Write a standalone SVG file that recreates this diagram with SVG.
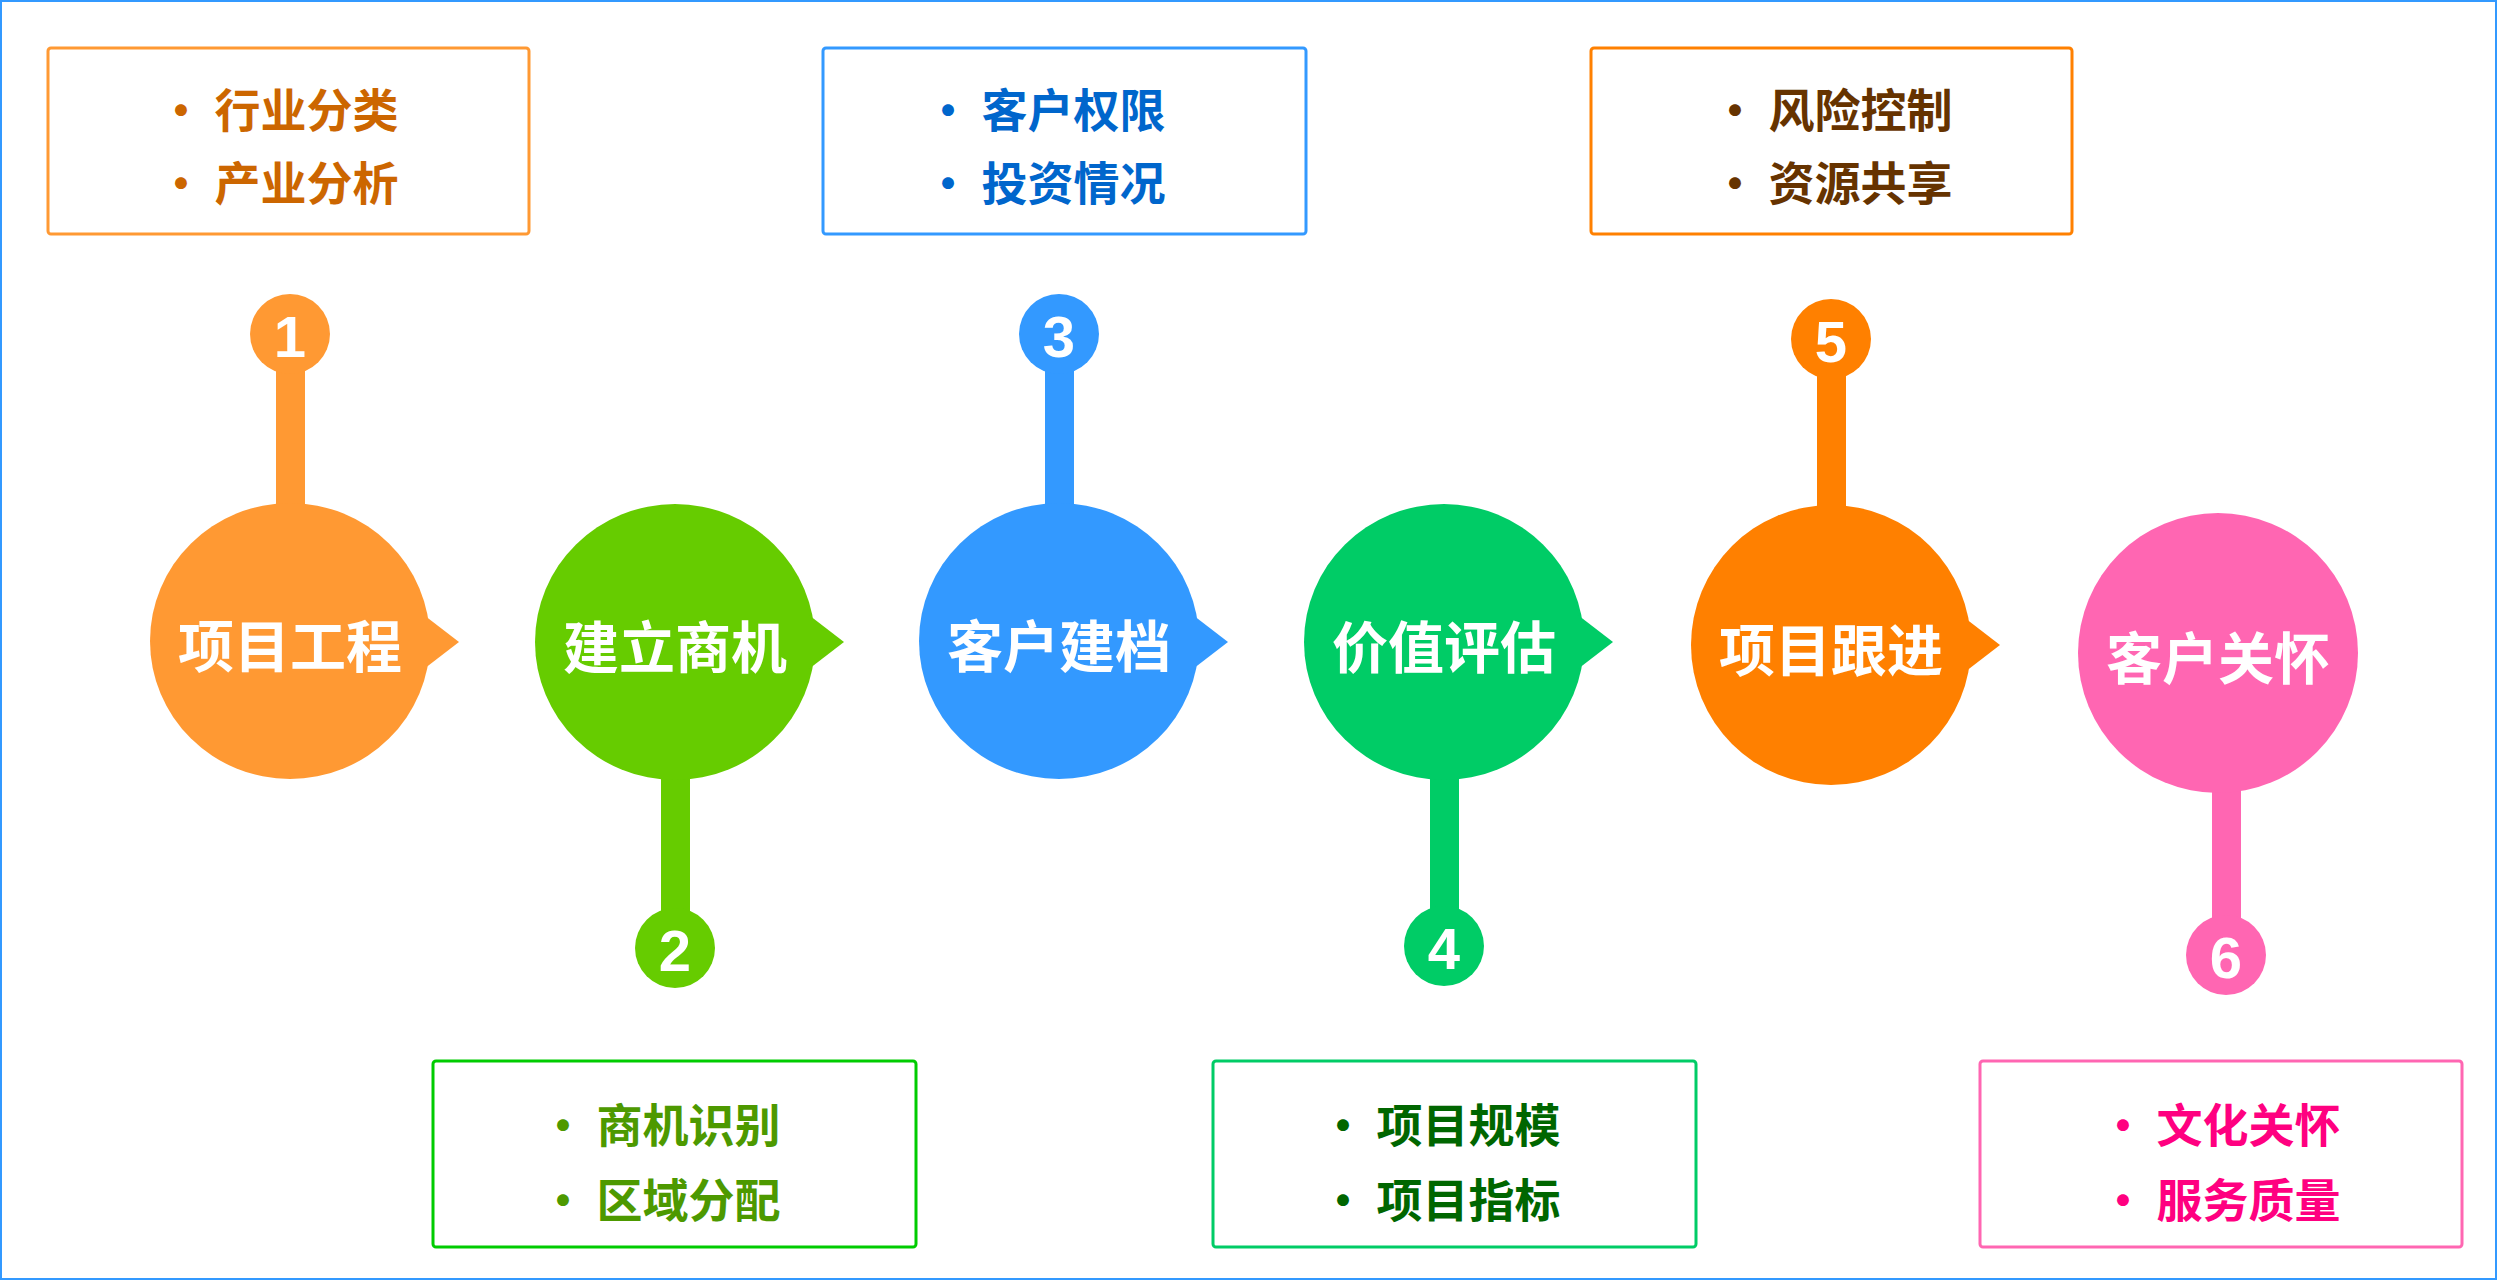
<svg xmlns="http://www.w3.org/2000/svg" width="2497" height="1280" viewBox="0 0 2497 1280">
<style>
text{font-family:"Noto Sans CJK SC","Liberation Sans",sans-serif;font-weight:bold}
.lbl{fill:#fff;font-size:56px;text-anchor:middle;dominant-baseline:central}
.num{fill:#fff;font-size:58px;text-anchor:middle;dominant-baseline:central;font-family:"Liberation Sans",sans-serif}
.bt{font-size:46px;dominant-baseline:central}
.box{fill:#fff;stroke-width:3}
</style>
<rect x="1" y="1" width="2495" height="1278" fill="#fff" stroke="#3399FF" stroke-width="2"/>
<g id="connectors">
<rect x="276" y="334" width="29" height="180" fill="#FF9933"/>
<rect x="661" y="770" width="29" height="180" fill="#66CC00"/>
<rect x="1045" y="334" width="29" height="180" fill="#3399FF"/>
<rect x="1430" y="770" width="29" height="180" fill="#00CC66"/>
<rect x="1817" y="339" width="29" height="180" fill="#FF8000"/>
<rect x="2212" y="780" width="29" height="180" fill="#FF66B2"/>
</g>
<g id="n1">
<rect class="box" x="48" y="48" width="481" height="186" rx="3" stroke="#FF9933"/>
<text class="bt" fill="#CC6600" x="158" y="107">• 行业分类</text>
<text class="bt" fill="#CC6600" x="158" y="180">• 产业分析</text>
<ellipse cx="290" cy="641" rx="140" ry="138" fill="#FF9933"/>
<polygon points="420,612 459,642 420,672" fill="#FF9933"/>
<text class="lbl" x="290" y="642">项目工程</text>
<circle cx="290" cy="334" r="40" fill="#FF9933"/>
<text class="num" x="290" y="336">1</text>
</g>
<g id="n2">
<rect class="box" x="433" y="1061" width="483" height="186" rx="3" stroke="#00CC00"/>
<text class="bt" fill="#4D9900" x="540" y="1122">• 商机识别</text>
<text class="bt" fill="#4D9900" x="540" y="1197">• 区域分配</text>
<ellipse cx="675" cy="642" rx="140" ry="138" fill="#66CC00"/>
<polygon points="805,612 844,642 805,672" fill="#66CC00"/>
<text class="lbl" x="675" y="643">建立商机</text>
<circle cx="675" cy="948" r="40" fill="#66CC00"/>
<text class="num" x="675" y="950">2</text>
</g>
<g id="n3">
<rect class="box" x="823" y="48" width="483" height="186" rx="3" stroke="#3399FF"/>
<text class="bt" fill="#0066CC" x="925" y="107">• 客户权限</text>
<text class="bt" fill="#0066CC" x="925" y="180">• 投资情况</text>
<ellipse cx="1059" cy="641" rx="140" ry="138" fill="#3399FF"/>
<polygon points="1189,612 1228,642 1189,672" fill="#3399FF"/>
<text class="lbl" x="1059" y="642">客户建档</text>
<circle cx="1059" cy="334" r="40" fill="#3399FF"/>
<text class="num" x="1059" y="336">3</text>
</g>
<g id="n4">
<rect class="box" x="1213" y="1061" width="483" height="186" rx="3" stroke="#00CC66"/>
<text class="bt" fill="#006600" x="1320" y="1122">• 项目规模</text>
<text class="bt" fill="#006600" x="1320" y="1197">• 项目指标</text>
<ellipse cx="1444" cy="642" rx="140" ry="138" fill="#00CC66"/>
<polygon points="1574,612 1613,642 1574,672" fill="#00CC66"/>
<text class="lbl" x="1444" y="643">价值评估</text>
<circle cx="1444" cy="946" r="40" fill="#00CC66"/>
<text class="num" x="1444" y="948">4</text>
</g>
<g id="n5">
<rect class="box" x="1591" y="48" width="481" height="186" rx="3" stroke="#FF8000"/>
<text class="bt" fill="#663300" x="1712" y="107">• 风险控制</text>
<text class="bt" fill="#663300" x="1712" y="180">• 资源共享</text>
<ellipse cx="1831" cy="645" rx="140" ry="140" fill="#FF8000"/>
<polygon points="1961,615 2000,645 1961,675" fill="#FF8000"/>
<text class="lbl" x="1831" y="646">项目跟进</text>
<circle cx="1831" cy="339" r="40" fill="#FF8000"/>
<text class="num" x="1831" y="341">5</text>
</g>
<g id="n6">
<rect class="box" x="1980" y="1061" width="482" height="186" rx="3" stroke="#FF66B2"/>
<text class="bt" fill="#FF0080" x="2100" y="1122">• 文化关怀</text>
<text class="bt" fill="#FF0080" x="2100" y="1197">• 服务质量</text>
<ellipse cx="2218" cy="653" rx="140" ry="140" fill="#FF66B2"/>
<text class="lbl" x="2218" y="654">客户关怀</text>
<circle cx="2226" cy="955" r="40" fill="#FF66B2"/>
<text class="num" x="2226" y="957">6</text>
</g>
</svg>
